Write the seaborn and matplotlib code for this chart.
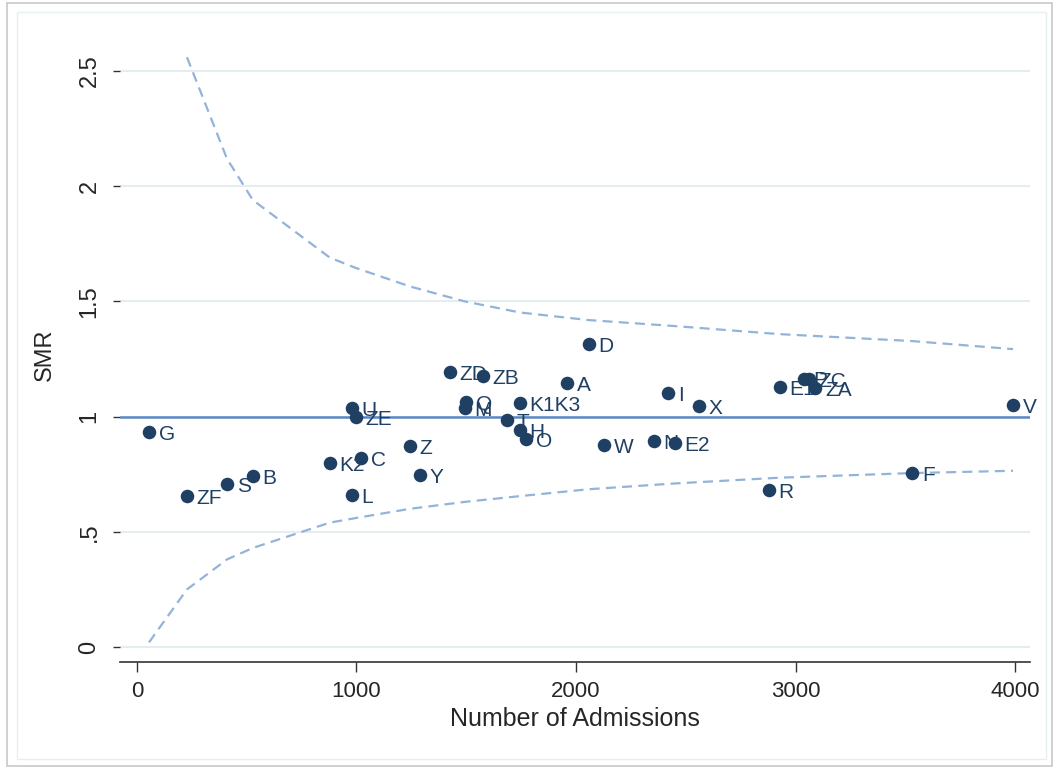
import matplotlib
matplotlib.use("Agg")
import matplotlib.pyplot as plt
import seaborn as sns
import pandas as pd
from matplotlib.patches import Rectangle

# ---- data ----
hospitals = ["G", "ZF", "S", "B", "K2", "C", "L", "U", "ZE", "Z", "Y", "ZD", "ZB",
             "Q", "M", "T", "H", "O", "K1K3", "A", "D", "W", "N", "E2", "I", "X",
             "E1", "P", "ZC", "ZA", "R", "F", "V"]
admissions = [55, 228, 410, 528, 879, 1020, 979, 979, 998, 1244, 1289, 1426, 1576,
              1499, 1494, 1686, 1745, 1772, 1745, 1959, 2059, 2128, 2355, 2451, 2419, 2560,
              2929, 3038, 3062, 3090, 2879, 3531, 3991]
smr = [0.933, 0.655, 0.707, 0.742, 0.798, 0.820, 0.660, 1.037, 0.998, 0.872, 0.746, 1.193, 1.176,
       1.063, 1.037, 0.985, 0.941, 0.902, 1.059, 1.145, 1.315, 0.876, 0.894, 0.885, 1.102, 1.046,
       1.128, 1.165, 1.163, 1.124, 0.681, 0.755, 1.050]

upper_x = [228, 410, 528, 879, 998, 1244, 1494, 1745, 2059, 2451, 2929, 3531, 3991]
upper_y = [2.56, 2.12, 1.94, 1.69, 1.645, 1.565, 1.50, 1.452, 1.419, 1.393, 1.358, 1.328, 1.293]
lower_x = [55, 228, 410, 528, 879, 998, 1244, 1494, 1745, 2059, 2451, 2929, 3531, 3991]
lower_y = [0.02, 0.25, 0.38, 0.43, 0.54, 0.56, 0.60, 0.63, 0.655, 0.685, 0.71, 0.735, 0.755, 0.765]

xticks = [0, 1000, 2000, 3000, 4000]
xtick_labels = ["0", "1000", "2000", "3000", "4000"]
yticks = [0, 0.5, 1, 1.5, 2, 2.5]
ytick_labels = ["0", ".5", "1", "1.5", "2", "2.5"]

df = pd.DataFrame({"hospital": hospitals, "admissions": admissions, "smr": smr})
up = pd.DataFrame({"x": upper_x, "y": upper_y})
lo = pd.DataFrame({"x": lower_x, "y": lower_y})

# ---- style ----
sns.set_style("white")
plt.rcParams["font.family"] = ["Liberation Sans", "DejaVu Sans"]

navy = "#1F3F63"
ref_blue = "#5A88C6"
dash_blue = "#93B3DB"
grid_col = "#E5EDF0"

fig = plt.figure(figsize=(10.55, 7.69), dpi=100)
W, H = 1055, 769
fig.patches.append(Rectangle((7 / W, 3 / H), (1052 - 7) / W, (766 - 3) / H, transform=fig.transFigure,
                             fill=False, edgecolor="#C8C8C8", lw=1.2))
fig.patches.append(Rectangle((17 / W, 10 / H), (1046 - 17) / W, (757 - 10) / H, transform=fig.transFigure,
                             fill=False, edgecolor="#E6EFF1", lw=1.0))

ax = fig.add_axes([120 / W, (H - 662) / H, (1030 - 120) / W, (662 - 48) / H])
ax.set_xlim(-77, 4068)
ax.set_ylim(-0.065, 2.60)

for yv in yticks:
    ax.axhline(yv, color=grid_col, lw=1.5, zorder=0)

ax.axhline(1.0, color=ref_blue, lw=1.8, zorder=1)

sns.lineplot(data=up, x="x", y="y", ax=ax, sort=False, estimator=None, color=dash_blue,
             lw=1.6, dashes=False, zorder=2)
sns.lineplot(data=lo, x="x", y="y", ax=ax, sort=False, estimator=None, color=dash_blue,
             lw=1.6, dashes=False, zorder=2)
for ln in ax.lines[-2:]:
    ln.set_dashes([4.5, 2.8])

sns.scatterplot(data=df, x="admissions", y="smr", ax=ax, s=95, color=navy,
                edgecolor=navy, linewidth=0, zorder=4)
for h, xv, yv in zip(hospitals, admissions, smr):
    ax.annotate(h, (xv, yv), xytext=(7, -1.5), textcoords="offset points",
                ha="left", va="center", fontsize=15, color=navy, zorder=3)

# axes
for s in ["top", "right", "left"]:
    ax.spines[s].set_visible(False)
ax.spines["bottom"].set_color("#333333")
ax.spines["bottom"].set_linewidth(1.2)
ax.set_xticks(xticks)
ax.set_xticklabels(xtick_labels)
ax.set_yticks(yticks)
ax.set_yticklabels(ytick_labels, rotation=90, va="center")
ax.tick_params(axis="x", length=7, width=1.0, color="#333333", labelsize=16, pad=7, bottom=True)
ax.tick_params(axis="y", length=5, width=1.0, color="#333333", labelsize=17, pad=9, left=True)
ax.set_xlabel("Number of Admissions", fontsize=18, labelpad=3)
ax.set_ylabel("SMR", fontsize=17, labelpad=16)

fig.savefig("out.png", dpi=100)
